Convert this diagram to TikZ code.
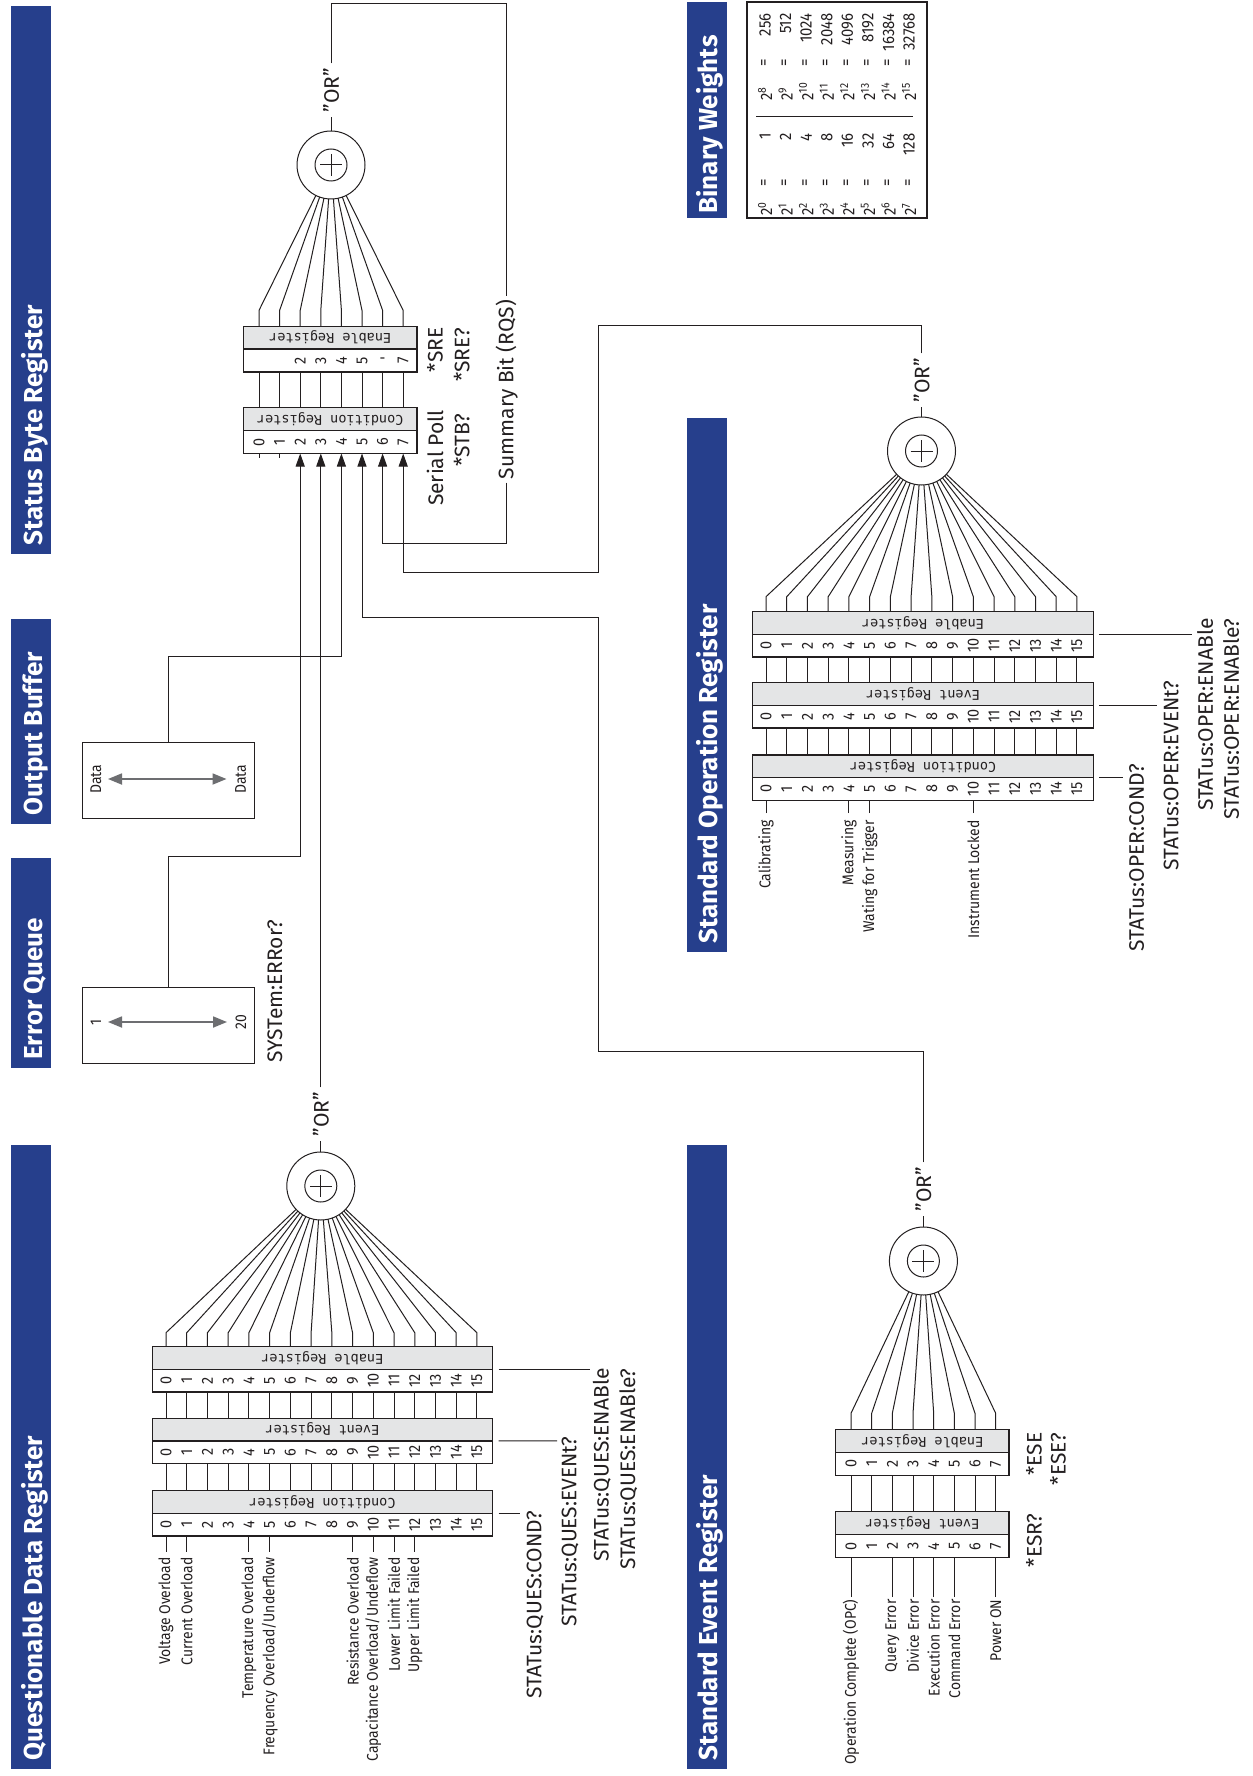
\documentclass[tikz,border=0pt]{standalone}
\usepackage{fontspec}
\setmainfont{Fira Sans}
\newfontfamily\condf{Fira Sans}[FakeStretch=0.9]
\newfontfamily\monof{DejaVu Sans Mono}
\usetikzlibrary{arrows.meta}
\definecolor{bluebar}{RGB}{38,63,140}
\definecolor{regfill}{RGB}{228,229,230}
\definecolor{ink}{RGB}{35,31,32}
\definecolor{arrgray}{RGB}{109,110,113}
\newcommand{\regbox}[7]{%
  \node[regg, minimum width={#3-#2}, minimum height={#5}, anchor=north west] (#1) at (#2,#4) {};
  \node[regw, minimum width={#3-#2}, minimum height={#6}, anchor=north west] (#1n) at (#1.south west) {};
  \node[regt] (#1t) at (#1.center) {#7};
}
\tikzset{
  regg/.style={draw=ink, fill=regfill, line width=1.3pt, inner sep=0pt, outer sep=0pt},
  regw/.style={draw=ink, fill=white, line width=1.3pt, inner sep=0pt, outer sep=0pt},
  regt/.style={rotate=180, inner sep=0pt, font=\monof\fontsize{13.5}{15}\selectfont, text=ink},
  bitn/.style={rotate=90, inner sep=0pt, font=\condf\fontsize{16}{18}\selectfont, text=ink},
  lab/.style={rotate=90, inner sep=0pt, font=\fontsize{21}{25}\selectfont, text=ink},
  sml/.style={rotate=90, inner sep=0pt, font=\condf\fontsize{15.5}{18}\selectfont, text=ink},
  ttl/.style={rotate=90, inner sep=0pt, anchor=base west, text=white, font=\bfseries\fontsize{26}{30}\selectfont},
  orc/.style={circle, draw=ink, line width=1pt, minimum size=68pt, inner sep=0pt, outer sep=0pt},
  orin/.style={circle, draw=ink, line width=1pt, minimum size=32pt, inner sep=0pt},
  ortx/.style={rotate=90, inner sep=4pt, font=\fontsize{21}{25}\selectfont, text=ink},
  tipa/.style={-{Triangle[length=13pt,width=9pt]}},
  dbl/.style={draw=arrgray, line width=1.8pt, {Triangle[length=14pt,width=11pt]}-{Triangle[length=14pt,width=11pt]}},
  bx/.style={draw=ink, line width=1.5pt, inner sep=0pt, minimum width=171.6pt, minimum height=75.6pt},
  tb/.style={rotate=90, inner sep=0pt, font=\condf\fontsize{16.5}{18}\selectfont, text=ink},
}
\begin{document}
\begin{tikzpicture}[x=1pt,y=-1pt,color=ink,line width=1pt]
\useasboundingbox[fill=white] (0,0) rectangle (1252,1776);

% ---------- title bars ----------
\fill[bluebar] (11.4,6) rectangle (51,554);
\node[ttl] (tSB) at (42,546) {Status Byte Register};
\fill[bluebar] (11.4,619) rectangle (51,824);
\node[ttl] (tOB) at (42,816) {Output Buffer};
\fill[bluebar] (11.4,858) rectangle (51,1068);
\node[ttl] (tEQ) at (42,1060) {Error Queue};
\fill[bluebar] (11.4,1145) rectangle (51,1769);
\node[ttl] (tQD) at (42,1761) {Questionable Data Register};
\fill[bluebar] (687,2) rectangle (727,218);
\node[ttl] (tBW) at (717.8,214) {Binary Weights};
\fill[bluebar] (687,418) rectangle (727,952);
\node[ttl] (tSO) at (717.8,944) {Standard Operation Register};
\fill[bluebar] (687,1145) rectangle (727,1769);
\node[ttl] (tSE) at (717.8,1761) {Standard Event Register};

% ---------- binary weights ----------
\draw[line width=2pt] (747.3,1.7) rectangle (926.7,218.3);
\draw (756,116.7) -- (913,116.7);
\foreach \r/\a/\b in {0/1/256,1/2/512,2/4/1024,3/8/2048,4/16/4096,5/32/8192,6/64/16384,7/128/32768}{
  \pgfmathtruncatemacro{\rr}{\r+8}
  \node[tb, anchor=west] (bwp\r) at ({765+\r*20.6},216) {2\textsuperscript{\r}};
  \node[tb] (bwe\r) at ({765+\r*20.6},183) {=};
  \node[tb, anchor=east] (bwv\r) at ({765+\r*20.6},133) {\a};
  \node[tb, anchor=west] (bwq\r) at ({765+\r*20.6},101) {2\textsuperscript{\rr}};
  \node[tb] (bwf\r) at ({765+\r*20.6},63) {=};
  \node[tb, anchor=east] (bww\r) at ({765+\r*20.6},13) {\b};
}

% ---------- status byte register ----------
\regbox{sbe}{243.5}{417}{326.4}{22.6}{23}{Enable Register}
\regbox{sbc}{243.5}{417}{407.7}{22.8}{23}{Condition Register}
\foreach \v [count=\c from 0] in {{},{},2,3,4,5,{},7}
  \node[bitn] (sben\c) at ({259+\c*20.6},360.5) {\v};
\node[inner sep=0pt, font=\condf\fontsize{16}{18}\selectfont] (sbedash) at ({259+6*20.6},360.5) {-};
\foreach \i in {0,...,7}{
  \node[bitn] (sbcn\i) at ({259+\i*20.6},442) {\i};
  \draw ({259+\i*20.6},372) -- ({259+\i*20.6},407.7);
}
\node[orc] (sbor) at (331,165) {};
\node[orin] (sbori) at (331,165) {};
\draw (320,165) -- (342,165) (331,154) -- (331,176);
\foreach \i in {0,...,7}
  \draw ({259+\i*20.6},326.4) -- ++(0,-16) -- (sbor);
\node[ortx] (sbort) at (331,90) {"OR"};
\draw (sbor) -- (sbort);
\node[lab, inner sep=3pt] (rqs) at (506.7,389.5) {Summary Bit (RQS)};
\draw (sbort) -- (331,4) -- (506.7,4) -- (rqs);
\coordinate (sbin2) at (300.2,453.5);
\coordinate (sbin3) at (320.8,453.5);
\coordinate (sbin4) at (341.4,453.5);
\coordinate (sbin5) at (362,453.5);
\coordinate (sbin6) at (382.6,453.5);
\coordinate (sbin7) at (403.2,453.5);
\draw[tipa] (rqs) -- (506.7,543) -- (382.6,543) -- (sbin6);
\draw (259,453.5) -- ++(0,4);
\draw (279.6,453.5) -- ++(0,4);
\node[lab, anchor=east] (sbl1) at (435,409.5) {Serial Poll};
\node[lab, anchor=east] (sbl2) at (461.7,413) {*STB?};
\node[lab, anchor=east] (sbl3) at (435,327) {*SRE};
\node[lab, anchor=east] (sbl4) at (461.7,327) {*SRE?};

% ---------- output buffer / error queue ----------
\node[bx] (obbox) at (168.5,780.5) {};
\node[sml] (obd1) at (96,779) {Data};
\node[sml] (obd2) at (240.5,779) {Data};
\draw[dbl] ([xshift=12pt]obd1.center) -- ([xshift=-14pt]obd2.center);
\node[bx] (eqbox) at (168.5,1025.5) {};
\node[sml] (eqd1) at (96,1022) {1};
\node[sml] (eqd2) at (241,1022) {20};
\draw[dbl] ([xshift=12pt]eqd1.center) -- ([xshift=-14pt]eqd2.center);
\node[lab, anchor=west] (syserr) at (275,1063.3) {SYSTem:ERRor?};
\draw[tipa] (obbox.north) -- (168.5,656.6) -- (341.4,656.6) -- (sbin4);
\draw[tipa] (eqbox.north) -- (168.5,856) -- (300.2,856) -- (sbin2);

% ---------- questionable data register ----------
\regbox{qde}{152.3}{492.5}{1346.7}{22.6}{22.7}{Enable Register}
\regbox{qdv}{152.3}{492.5}{1418.3}{22.6}{22.7}{Event Register}
\regbox{qdc}{152.3}{492.5}{1490.7}{22.6}{22.7}{Condition Register}
\foreach \i in {0,...,15}{
  \node[bitn] (qden\i) at ({166+\i*20.73},1380.6) {\i};
  \node[bitn] (qdvn\i) at ({166+\i*20.73},1452.2) {\i};
  \node[bitn] (qdcn\i) at ({166+\i*20.73},1524.7) {\i};
  \draw ({166+\i*20.73},1392) -- ({166+\i*20.73},1418.3);
  \draw ({166+\i*20.73},1463.6) -- ({166+\i*20.73},1490.7);
}
\node[orc] (qdor) at (320.8,1186) {};
\node[orin] (qdori) at (320.8,1186) {};
\draw (309.8,1186) -- (331.8,1186) (320.8,1175) -- (320.8,1197);
\foreach \i in {0,...,15}
  \draw ({166+\i*20.73},1346.7) -- ++(0,-14) -- (qdor);
\node[ortx] (qdort) at (320.8,1114) {"OR"};
\draw (qdor) -- (qdort);
\draw[tipa] (qdort) -- (sbin3);
\foreach \b/\t in {0/Voltage Overload,1/Current Overload,4/Temperature Overload,5/{Frequency Overload/Underflow},9/Resistance Overload,10/{Capacitance Overload/Undeflow},11/Lower Limit Failed,12/Upper Limit Failed}{
  \node[sml, anchor=east] (qdl\b) at ({166+\b*20.73},1556.7) {\t};
  \draw (qdl\b.east) ++(0,-5) -- ++(0,-15.7);
}
\draw ([xshift=6pt]qdc.south east) -- (520,1513.3);
\node[lab, anchor=east] (qdcmd1) at (535,1510) {STATus:QUES:COND?};
\draw ([xshift=6pt]qdv.south east) -- (557,1440.9);
\node[lab, anchor=east] (qdcmd2) at (570,1436) {STATus:QUES:EVENt?};
\draw ([xshift=6pt]qde.south east) -- (590,1369.3);
\node[lab, anchor=east] (qdcmd3) at (601.7,1368) {STATus:QUES:ENABle};
\node[lab, anchor=east] (qdcmd4) at (628.3,1368) {STATus:QUES:ENABle?};

% ---------- standard operation register ----------
\regbox{soe}{752.7}{1093.3}{611.7}{22.6}{22.6}{Enable Register}
\regbox{sov}{752.7}{1093.3}{682.7}{22.6}{22.6}{Event Register}
\regbox{soc}{752.7}{1093.3}{755}{22.6}{22.6}{Condition Register}
\foreach \i in {0,...,15}{
  \node[bitn] (soen\i) at ({766+\i*20.73},645.6) {\i};
  \node[bitn] (sovn\i) at ({766+\i*20.73},716.6) {\i};
  \node[bitn] (socn\i) at ({766+\i*20.73},788.9) {\i};
  \draw ({766+\i*20.73},656.9) -- ({766+\i*20.73},682.7);
  \draw ({766+\i*20.73},727.9) -- ({766+\i*20.73},755);
}
\node[orc] (soor) at (921.5,451) {};
\node[orin] (soori) at (921.5,451) {};
\draw (910.5,451) -- (932.5,451) (921.5,440) -- (921.5,462);
\foreach \i in {0,...,15}
  \draw ({766+\i*20.73},611.7) -- ++(0,-15) -- (soor);
\node[ortx] (soort) at (921.5,380) {"OR"};
\draw (soor) -- (soort);
\draw[tipa] (soort) -- (921.5,325) -- (598.3,325) -- (598.3,572) -- (403.2,572) -- (sbin7);
\foreach \b/\t in {0/Calibrating,4/Measuring,5/Wating for Trigger,10/Instrument Locked}{
  \node[sml, anchor=east] (sol\b) at ({766+\b*20.73},820) {\t};
  \draw (sol\b.east) ++(0,-7) -- ++(0,-12.8);
}
\draw ([xshift=6pt]soc.south east) -- (1123,777.6);
\node[lab, anchor=east] (socmd1) at (1136.7,763) {STATus:OPER:COND?};
\draw ([xshift=6pt]sov.south east) -- (1157,705.3);
\node[lab, anchor=east] (socmd2) at (1171,680) {STATus:OPER:EVENt?};
\draw ([xshift=6pt]soe.south east) -- (1192,634.3);
\node[lab, anchor=east] (socmd3) at (1205,618) {STATus:OPER:ENABle};
\node[lab, anchor=east] (socmd4) at (1231,618) {STATus:OPER:ENABle?};

% ---------- standard event register ----------
\regbox{see}{835.7}{1009}{1429.3}{23}{23}{Enable Register}
\regbox{sev}{835.7}{1009}{1511.7}{23}{23}{Event Register}
\foreach \i in {0,...,7}{
  \node[bitn] (seen\i) at ({851+\i*20.67},1463.8) {\i};
  \node[bitn] (sevn\i) at ({851+\i*20.67},1546.2) {\i};
  \draw ({851+\i*20.67},1475.3) -- ({851+\i*20.67},1511.7);
}
\node[orc] (seor) at (923.4,1261) {};
\node[orin] (seori) at (923.4,1261) {};
\draw (912.4,1261) -- (934.4,1261) (923.4,1250) -- (923.4,1272);
\foreach \i in {0,...,7}
  \draw ({851+\i*20.67},1429.3) -- ++(0,-16) -- (seor);
\node[ortx] (seort) at (923.4,1189) {"OR"};
\draw (seor) -- (seort);
\draw[tipa] (seort) -- (923.4,1051) -- (598.3,1051) -- (598.3,617) -- (362,617) -- (sbin5);
\foreach \b/\t in {0/Operation Complete (OPC),2/Query Error,3/Divice Error,4/Execution Error,5/Command Error,7/Power ON}{
  \node[sml, anchor=east] (sel\b) at ({851+\b*20.67},1599) {\t};
  \draw (sel\b.east) ++(0,-2) -- ({851+\b*20.67},1557.7);
}
\node[lab, anchor=east] (secmd1) at (1034,1513) {*ESR?};
\node[lab, anchor=east] (secmd2) at (1034,1432) {*ESE};
\node[lab, anchor=east] (secmd3) at (1058,1432) {*ESE?};
\end{tikzpicture}
\end{document}
